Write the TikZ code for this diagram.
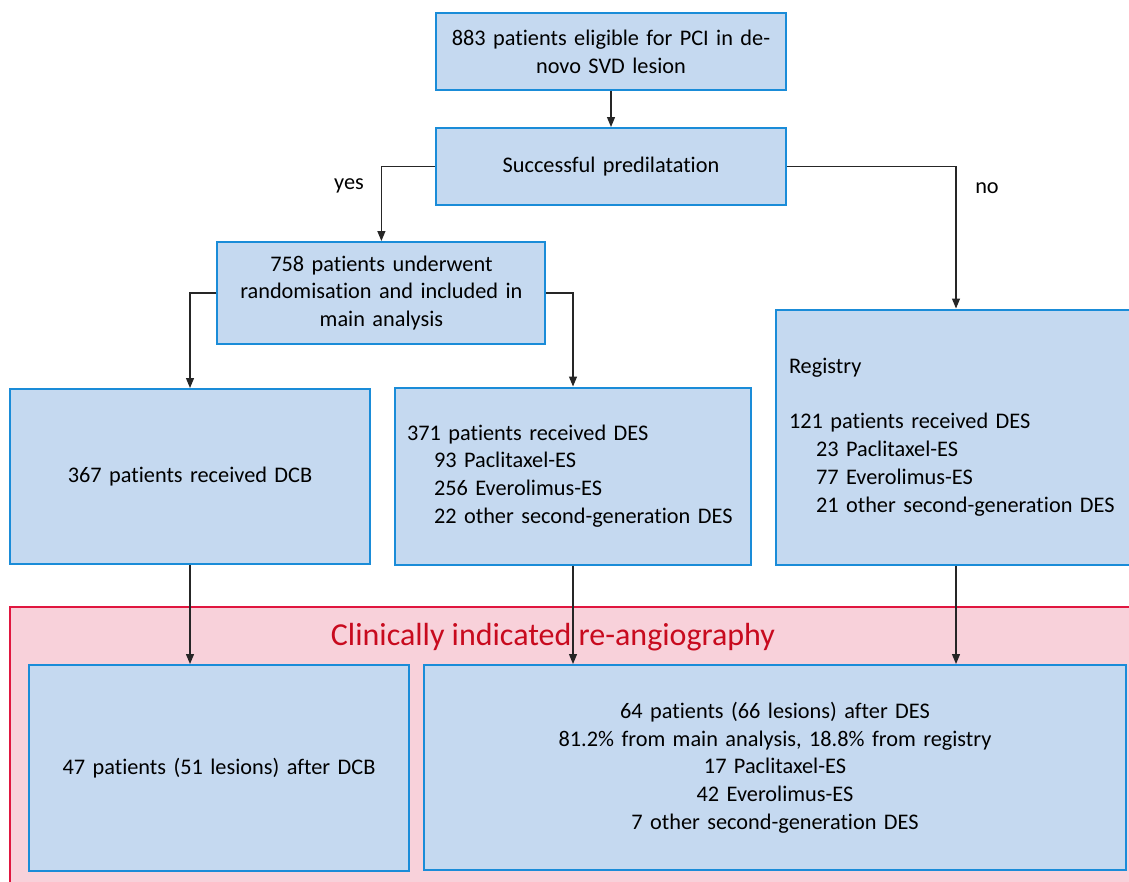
\documentclass[tikz,border=0pt]{standalone}
\usepackage{fontspec}
\setmainfont{Carlito}[Ligatures=NoCommon]
\usetikzlibrary{arrows.meta}
\definecolor{bfill}{HTML}{C5D9F0}
\definecolor{bdr}{HTML}{1A8CD8}
\definecolor{pfill}{HTML}{F8D1DA}
\definecolor{pdr}{HTML}{E0163F}
\definecolor{ttl}{HTML}{C80A1E}
\newcommand\boxfont{\fontsize{22.3}{27.7}\selectfont}
\newcommand\ia{\hspace*{12pt}}
\newcommand\ib{\hspace*{39pt}}
\newcommand\ic{\hspace*{13pt}}
\newcommand\id{\hspace*{40pt}}
\begin{document}
\begin{tikzpicture}[x=1pt,y=-1pt,
  box/.style={draw=bdr,fill=bfill,line width=2pt,inner sep=0pt,font=\boxfont,align=center,text=black},
  conn/.style={line width=1.2pt,draw=black!85,-{Triangle[length=10pt,width=8pt]}},
  lbl/.style={font=\boxfont,text=black,inner sep=0pt}]
\clip (0,0) rectangle (1129,881);
\fill[white] (0,0) rectangle (1129,881);
% red area
\draw[fill=pfill,draw=pdr,line width=2pt] (10,606.5) rectangle (1150,900);
\node[font=\fontsize{32}{36}\selectfont,text=ttl,inner sep=0pt] (title) at (553,637) {Clinically indicated re-angiography};
% boxes
\node[box,minimum width=350pt,minimum height=77pt,text width=346pt] (b1) at (611,51.5)
  {883 patients eligible for PCI in de-\\novo SVD lesion};
\node[box,minimum width=350pt,minimum height=77pt,text width=346pt] (b2) at (611,166.5)
  {Successful predilatation};
\node[box,minimum width=328pt,minimum height=102pt,text width=324pt] (b3) at (381.4,293)
  {758 patients underwent\\randomisation and included in\\main analysis};
\node[box,minimum width=360pt,minimum height=175pt,text width=356pt] (b4) at (190,476.5)
  {367 patients received DCB};
\node[box,minimum width=356pt,minimum height=177pt,text width=356pt,align=left] (b5) at (573,476)
  {\ia 371 patients received DES\\
   \ib 93 Paclitaxel-ES\\
   \ib 256 Everolimus-ES\\
   \ib 22 other second-generation DES};
\node[box,minimum width=360pt,minimum height=255pt,text width=360pt,align=left] (reg) at (956,437)
  {\ic Registry\\[27.7pt]
   \ic 121 patients received DES\\
   \id 23 Paclitaxel-ES\\
   \id 77 Everolimus-ES\\
   \id 21 other second-generation DES};
\node[box,minimum width=380pt,minimum height=206pt,text width=376pt] (b6) at (219,768)
  {47 patients (51 lesions) after DCB};
\node[box,minimum width=702pt,minimum height=205pt,text width=698pt] (b7) at (775,767.5)
  {64 patients (66 lesions) after DES\\
   81.2\% from main analysis, 18.8\% from registry\\
   17 Paclitaxel-ES\\
   42 Everolimus-ES\\
   7 other second-generation DES};
% labels
\node[lbl] (yes) at (349,186) {yes};
\node[lbl] (no) at (987,188) {no};
% connectors
\draw[conn] (b1.south) -- (b2.north);
\draw[conn] (b2.west) -| (b3.north);
\draw[conn] (b2.east) -| (reg.north);
\draw[conn] (b3.west) -| (b4.north);
\draw[conn] (b3.east) -| (b5.north);
\draw[conn] (b4.south) -- (b4.south |- b6.north);
\draw[conn] (b5.south) -- (b5.south |- b7.north);
\draw[conn] (reg.south) -- (reg.south |- b7.north);
\end{tikzpicture}
\end{document}
